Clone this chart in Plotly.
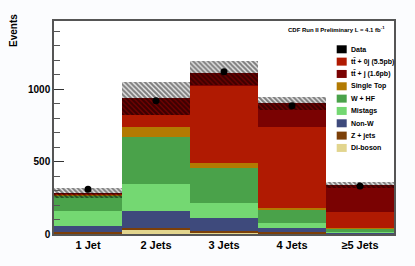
import plotly.graph_objects as go

categories = ["1 Jet", "2 Jets", "3 Jets", "4 Jets", "≥5 Jets"]
diboson = [5, 25, 10, 5, 1]
zjets = [11, 17, 14, 11, 3]
nonw = [39, 119, 88, 27, 7]
mistags = [106, 184, 104, 35, 6]
whf = [108, 326, 237, 92, 22]
singletop = [6, 65, 35, 8, 2]
tt0j = [5, 85, 535, 562, 111]
ttj = [2, 115, 90, 161, 186]
uncertainty = [34, 112, 82, 46, 22]
data = [308, 919, 1119, 885, 332]

stack_names = ["Di-boson", "Z + jets", "Non-W", "Mistags", "W + HF",
               "Single Top", "tt̄ + 0j (5.5pb)", "tt̄ + j (1.6pb)"]
stack_values = [diboson, zjets, nonw, mistags, whf, singletop, tt0j, ttj]
stack_colors = ["#e2d58e", "#7c3f08", "#3e4a7c", "#74d872", "#4aa24a",
                "#b27a02", "#b01a02", "#7a0202"]

legend_labels = ["Data", "tt̄ + 0j (5.5pb)", "tt̄ + j (1.6pb)", "Single Top",
                 "W + HF", "Mistags", "Non-W", "Z + jets", "Di-boson"]
legend_colors = ["#000000", "#b01a02", "#7a0202", "#b27a02", "#4aa24a",
                 "#74d872", "#3e4a7c", "#7c3f08", "#e2d58e"]

FONT = "Liberation Sans, Arial, sans-serif"

fig = go.Figure()
base = [0] * len(categories)
for name, vals, col in zip(stack_names, stack_values, stack_colors):
    fig.add_trace(go.Bar(x=categories, y=vals, base=list(base), name=name,
                         marker=dict(color=col, line=dict(width=0)),
                         width=1.0, showlegend=False))
    base = [b + v for b, v in zip(base, vals)]

totals = base
fig.add_trace(go.Bar(
    x=categories, y=[2 * u for u in uncertainty],
    base=[t - u for t, u in zip(totals, uncertainty)],
    width=1.0, showlegend=False, name="Uncertainty",
    marker=dict(color="rgba(0,0,0,0)", line=dict(width=0),
                pattern=dict(shape="\\", fgcolor="#000000", bgcolor="rgba(0,0,0,0)",
                             size=3.5, solidity=0.65, fillmode="overlay"))))

fig.add_trace(go.Scatter(x=categories, y=data, mode="markers", showlegend=False,
                         name="Data",
                         marker=dict(color="black", size=7, symbol="circle")))

# plot area in pixels
W, H = 415, 266
ml, mr, mt, mb = 54, 21, 21, 32
pw, ph = W - ml - mr, H - mt - mb

def px_to_paper(xp, yp):
    return (xp - ml) / pw, (H - mb - yp) / ph

shapes = []
annotations = []
for i, (lab, col) in enumerate(zip(legend_labels, legend_colors)):
    yc = 49.3 + 12.33 * i
    x0, y0 = px_to_paper(336.7, yc + 4)
    x1, y1 = px_to_paper(346.7, yc - 4)
    shapes.append(dict(type="rect", xref="paper", yref="paper", x0=x0, x1=x1,
                       y0=y0, y1=y1, fillcolor=col, line=dict(width=0)))
    tx, ty = px_to_paper(349, yc)
    annotations.append(dict(text=lab, xref="paper", yref="paper", x=tx, y=ty,
                            xanchor="left", yanchor="middle", showarrow=False,
                            font=dict(family=FONT, size=7, color="black", weight="bold")))

tx, ty = px_to_paper(387, 29.3)
annotations.append(dict(text="CDF Run II Preliminary L = 4.1 fb<sup>-1</sup>",
                        xref="paper", yref="paper", x=tx, y=ty, xanchor="right",
                        yanchor="middle", showarrow=False,
                        font=dict(family=FONT, size=6, color="black", weight="bold")))
tx, ty = px_to_paper(13, 31)
annotations.append(dict(text="Events", xref="paper", yref="paper", x=tx, y=ty,
                        textangle=-90, xanchor="center", yanchor="middle",
                        showarrow=False,
                        font=dict(family=FONT, size=10, color="black", weight="bold")))

fig.update_layout(
    width=W, height=H,
    margin=dict(l=ml, r=mr, t=mt, b=mb),
    barmode="overlay", bargap=0,
    paper_bgcolor="#fbfcfe", plot_bgcolor="white",
    font=dict(family=FONT, color="black"),
    shapes=shapes, annotations=annotations,
    xaxis=dict(showline=True, mirror=True, linecolor="#555555", linewidth=1.5,
               ticks="", showgrid=False, zeroline=False,
               tickfont=dict(family=FONT, size=11, color="black", weight="bold")),
    yaxis=dict(range=[0, 1470], showline=True, mirror=True, linecolor="#555555",
               linewidth=1.5, ticks="inside", ticklen=10, tickcolor="#333333",
               tickwidth=1, dtick=500, showgrid=False, zeroline=False,
               minor=dict(ticks="inside", ticklen=6, dtick=100, tickcolor="#555555",
                          showgrid=False),
               tickfont=dict(family=FONT, size=10, color="black", weight="bold")),
)

fig.write_html("out.html", config={"displayModeBar": False},
               post_script="document.body.style.margin='0';document.body.style.overflow='hidden';")
